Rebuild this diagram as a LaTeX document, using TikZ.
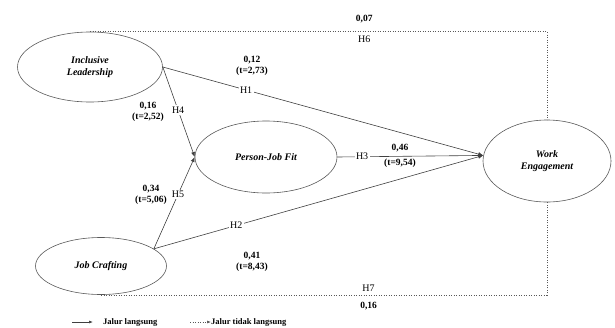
\documentclass[tikz,border=0pt]{standalone}
\usepackage{fontspec}
\setmainfont{Liberation Serif}
\usetikzlibrary{arrows.meta,shapes.geometric}
\definecolor{LineClr}{rgb}{0.25,0.25,0.25}
\definecolor{EdgeClr}{rgb}{0.35,0.35,0.35}

\begin{document}
\begin{tikzpicture}[x=1pt,y=-1pt,
  latent/.style={ellipse,draw=EdgeClr,line width=0.6pt,inner sep=0pt,align=center,
    font=\fontsize{10}{12}\selectfont\bfseries\itshape},
  direct/.style={draw=LineClr,line width=0.6pt,-{Latex[length=5pt,width=4pt]}},
  indirect/.style={draw=EdgeClr,line width=0.6pt,dash pattern=on 1.2pt off 1.3pt},
  hlab/.style={fill=white,inner sep=1.5pt,font=\fontsize{10}{12}\selectfont},
  coef/.style={align=center,inner sep=0pt,font=\fontsize{9.5}{11.5}\selectfont\bfseries},
  legtxt/.style={anchor=west,inner sep=0pt,font=\fontsize{8.5}{10}\selectfont\bfseries}]
\useasboundingbox (0,0) rectangle (615,327);

\node[latent,minimum width=145,minimum height=70] (il) at (90,67) {Inclusive\\Leadership};

\node[latent,minimum width=142,minimum height=72] (pjf) at (266,157) {Person-Job Fit};

\node[latent,minimum width=128,minimum height=82] (we) at (547,161) {Work\\Engagement};

\node[latent,minimum width=131,minimum height=57] (jc) at (101,266) {Job Crafting};

\draw[direct] (il.east) -- node[hlab,pos=0.26] {H1} (we.175);

\draw[direct] (il.east) -- node[hlab,pos=0.48] {H4} (pjf.west);

\draw[direct] (jc.18) -- node[hlab,pos=0.59] {H5} (pjf.west);

\draw[direct] (jc.18) -- node[hlab,pos=0.25] {H2} (we.175);

\draw[direct] (pjf.east) -- node[hlab,pos=0.17] {H3} (we.175);

\draw[indirect] (il.north) -| node[hlab,pos=0.3,below=2pt,fill=none] {H6} node[coef,pos=0.3,above=8pt] {0,07} (we.north);

\draw[indirect] (jc.south) -| node[hlab,pos=0.3,above=2pt,fill=none] {H7} node[coef,pos=0.3,below=7pt] {0,16} (we.south);

\node[coef] (c1) at (252,66) {0,12\\(t=2,73)};

\node[coef] (c4) at (148,112) {0,16\\(t=2,52)};

\node[coef] (c5) at (151,195) {0,34\\(t=5,06)};

\node[coef] (c2) at (252,262) {0,41\\(t=8,43)};

\node[coef] (c3) at (400,156) {0,46\\[3pt](t=9,54)};

\coordinate (l1) at (72,322);
\node[legtxt] (l1t) at (103,322) {Jalur langsung};
\draw[direct,-{Latex[length=4pt,width=3pt]}] (l1) -- ([xshift=-10pt]l1t.west);

\coordinate (l2) at (190,322);
\node[legtxt] (l2t) at (211,322) {Jalur tidak langsung};
\draw[indirect,-{Latex[length=4pt,width=3pt]}] (l2) -- (l2t.west);

\end{tikzpicture}
\end{document}
